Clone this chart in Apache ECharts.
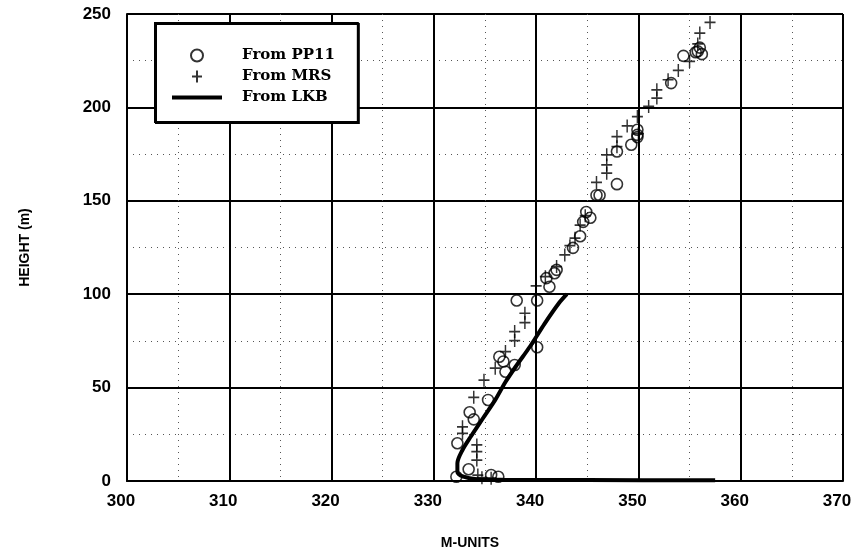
<!DOCTYPE html>
<html>
<head>
<meta charset="utf-8">
<script src="https://cdn.jsdelivr.net/npm/echarts@6/dist/echarts.min.js"></script>
<style>
  html, body { margin: 0; padding: 0; background: #fff; }
  #chart { width: 858px; height: 557px; }
</style>
</head>
<body>
<div id="chart"></div>
<script>
// Modified-refractivity profiles: M-units vs height (m)
const xTicks = [300, 310, 320, 330, 340, 350, 360, 370];
const yTicks = [0, 50, 100, 150, 200, 250];

// From PP11 (circles)
const pp11 = [
  [332.2, 2.3], [332.3, 20.2], [333.4, 6.3], [333.5, 36.8], [333.9, 33],
  [335.3, 43.4], [335.6, 3.2], [336.3, 2.3], [336.4, 66.5], [336.8, 64],
  [337.0, 58.5], [337.9, 62.1], [338.1, 96.6], [340.1, 96.6], [340.1, 71.6],
  [341.3, 104], [341.0, 108.6], [341.8, 111.2], [342.0, 113], [343.6, 124.8],
  [344.3, 131], [344.6, 138.7], [344.9, 144], [345.3, 140.9], [345.9, 153],
  [346.2, 153], [347.9, 158.9], [347.9, 176.4], [349.3, 180], [349.9, 184.1],
  [349.9, 185.3], [349.9, 188], [353.2, 213], [354.4, 227.6], [355.8, 230],
  [356.0, 232], [356.2, 228.5], [355.6, 229.5]
];

// From MRS (plus signs)
const mrs = [
  [332.8, 29], [332.8, 25.5], [334.2, 19.3], [334.2, 15.7], [334.2, 11.2],
  [334.3, 3.2], [334.7, 1.8], [335.6, 1.5], [333.9, 44.8], [334.9, 54],
  [336.0, 60.4], [337.0, 69.3], [337.9, 75.2], [337.9, 80], [338.9, 84.8],
  [338.9, 89.8], [340.0, 104.4], [340.9, 109.4], [342.0, 114.8], [342.8, 121],
  [343.3, 126], [343.8, 130], [344.3, 137], [344.8, 142], [345.9, 159.8],
  [346.9, 164.8], [346.9, 169.2], [346.9, 174.6], [347.9, 179], [347.9, 184.4],
  [348.9, 190.1], [350.0, 186], [349.9, 195.1], [351.0, 200.5], [351.8, 205],
  [351.8, 209.4], [352.9, 214.8], [353.9, 219.8], [355.0, 224.6], [355.8, 234],
  [356.0, 239.8], [357.0, 245.5]
];

// From LKB (thick curve)
const lkb = [
  [343.0, 100], [342.2, 95], [340.8, 84], [339.4, 72], [338.1, 62],
  [337.0, 53], [336.0, 43.4], [334.8, 33.6], [333.6, 23.7], [332.8, 16.6],
  [332.3, 9.5], [332.3, 5], [332.9, 2.3], [334.2, 0.9], [337.0, 0.6],
  [345.0, 0.5], [357.5, 0.4]
];

const chart = echarts.init(document.getElementById('chart'), null, { renderer: 'canvas' });

const sans = 'Liberation Sans, Arial, sans-serif';
const tickFont = { color: '#000', fontSize: 17, fontWeight: 'bold', fontFamily: sans };
const major = { show: true, lineStyle: { color: '#000', width: 2 } };
const minor = { show: true, lineStyle: { color: '#555', width: 1, type: [1, 5] } };

chart.setOption({
  animation: false,
  backgroundColor: '#fff',
  grid: { left: 127, right: 15, top: 14, bottom: 76 },
  legend: {
    orient: 'vertical',
    left: 155,
    top: 23,
    padding: [25, 23, 17, 17],
    itemGap: 5,
    itemWidth: 50,
    itemHeight: 12,
    borderColor: '#000',
    borderWidth: 2,
    backgroundColor: '#fff',
    shadowColor: '#000',
    shadowOffsetX: 1,
    shadowOffsetY: 1,
    textStyle: { color: '#000', fontSize: 15, fontWeight: 'bold', fontFamily: 'DejaVu Serif, serif', padding: [0, 0, 0, 15] },
    data: [
      'From PP11',
      'From MRS',
      { name: 'From LKB', icon: 'path://M0,0H50V4H0Z', itemStyle: { color: '#000', borderWidth: 0 } }
    ]
  },
  xAxis: {
    type: 'value',
    min: 300, max: 370, interval: 10,
    name: 'M-UNITS',
    nameLocation: 'middle',
    nameGap: 55,
    nameTextStyle: { color: '#000', fontSize: 14, fontWeight: 'bold', fontFamily: sans, padding: [0, 30, 0, 0] },
    axisLine: { show: true, onZero: false, lineStyle: { color: '#000', width: 2 } },
    axisTick: { show: false },
    axisLabel: { ...tickFont, margin: 12, padding: [0, 12, 0, 0], formatter: v => xTicks.includes(v) ? String(v) : '' },
    splitLine: major,
    minorTick: { show: false, splitNumber: 2 },
    minorSplitLine: minor
  },
  yAxis: {
    type: 'value',
    min: 0, max: 250, interval: 50,
    name: 'HEIGHT (m)',
    nameLocation: 'middle',
    nameGap: 95,
    nameRotate: 90,
    nameTextStyle: { color: '#000', fontSize: 14, fontWeight: 'bold', fontFamily: sans },
    axisLine: { show: true, onZero: false, lineStyle: { color: '#000', width: 2 } },
    axisTick: { show: false },
    axisLabel: { ...tickFont, margin: 16, formatter: v => yTicks.includes(v) ? String(v) : '' },
    splitLine: major,
    minorTick: { show: false, splitNumber: 2 },
    minorSplitLine: minor
  },
  series: [
    {
      name: 'From PP11',
      type: 'scatter',
      data: pp11,
      symbol: 'circle',
      symbolSize: 11,
      itemStyle: { color: 'rgba(0,0,0,0)', borderColor: '#000', borderWidth: 1.6 },
      z: 5
    },
    {
      name: 'From MRS',
      type: 'scatter',
      data: mrs,
      symbol: 'path://M5,0L5,12M0,6L10,6',
      symbolSize: [11, 13],
      itemStyle: { color: 'none', borderColor: '#000', borderWidth: 1.6 },
      z: 5
    },
    {
      name: 'From LKB',
      type: 'line',
      data: lkb,
      smooth: 0.3,
      symbol: 'none',
      lineStyle: { color: '#000', width: 4 },
      itemStyle: { color: '#000' },
      z: 4
    }
  ]
});
</script>
</body>
</html>
